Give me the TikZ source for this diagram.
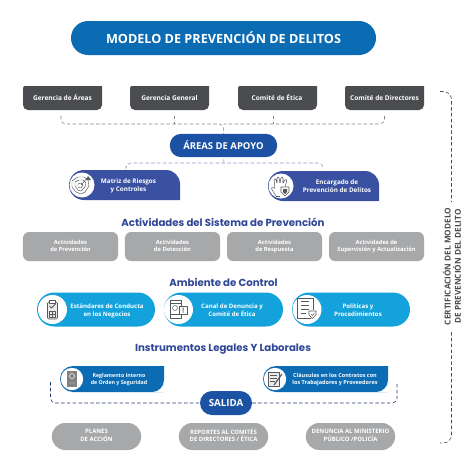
\documentclass[tikz,border=0pt]{standalone}
\usepackage{fontspec}
\setmainfont{Open Sans}
\newfontfamily\titular{Poppins}
\usepackage{tikz}

\definecolor{azulTitulo}{HTML}{0B6BB3}
\definecolor{azulApoyo}{HTML}{1C52A3}
\definecolor{azulMatriz}{HTML}{3A51A2}
\definecolor{azulTexto}{HTML}{2F4795}
\definecolor{celeste}{HTML}{13A2DB}
\definecolor{grisOscuro}{HTML}{4A4C4F}
\definecolor{grisClaro}{HTML}{A7A8AA}
\definecolor{grisIcono}{HTML}{55585B}

\tikzset{
  pildora/.style={fill=#1, text=white, rounded corners=0.34cm, inner sep=0pt, align=center, font=\bfseries},
  etiqueta/.style={text=white, inner sep=0pt, align=center, font=\bfseries\fontsize{5.5}{7.2}\selectfont,
    execute at begin node=\strut, execute at end node=\strut},
  cargo/.style={etiqueta, font=\bfseries\fontsize{5.6}{7}\selectfont, minimum width=2.37cm, minimum height=0.72cm},
  actividad/.style={fill=grisClaro, rounded corners=0.18cm, etiqueta, font=\bfseries\fontsize{4.9}{6}\selectfont, minimum width=2.85cm, minimum height=0.87cm},
  salidaBox/.style={fill=grisClaro, rounded corners=0.4cm, etiqueta, font=\bfseries\fontsize{5.1}{6.6}\selectfont, minimum width=2.68cm, minimum height=0.81cm},
  seccion/.style={text=azulTexto, inner sep=0pt, font=\titular\bfseries\fontsize{8.7}{11}\selectfont},
  enlace/.style={densely dashed, line width=0.5pt, rounded corners=4pt},
  icono/.style={draw=grisIcono, line width=0.45pt, line join=round},
}

\begin{document}
\begin{tikzpicture}[x=0.03cm, y=-0.03cm]
  \useasboundingbox (0,0) rectangle (474,474);

  % title
  \node[pildora=azulTitulo, minimum width=9.15cm, minimum height=1.02cm, rounded corners=0.51cm,
    font=\bfseries\fontsize{10.8}{12}\selectfont] (modelo) at (223.5,38) {MODELO DE PREVENCIÓN DE DELITOS};

  % boxes with one rounded corner
  \foreach \px/\py in {23/86, 130/86, 238/86, 345/86} {
    \fill[grisOscuro, rounded corners=0.15cm] (\px,\py+24) [sharp corners] -- (\px,\py+2) -- (\px+1,\py) -- (\px+79,\py) -- (\px+79,\py+18) [rounded corners=0.15cm] -- (\px+79,\py+24) -- cycle;
  }
  \node[cargo] (gerAreas) at (62.5,99) {Gerencia de Áreas};
  \node[cargo] (gerGeneral) at (169.5,99) {Gerencia General};
  \node[cargo] (comEtica) at (277,99) {Comité de Ética};
  \node[cargo] (comDirect) at (384.5,99) {Comité de Directores};

  % support areas
  \node[pildora=azulApoyo, minimum width=3.22cm, minimum height=0.7cm,
    font=\bfseries\fontsize{8.1}{10}\selectfont] (apoyo) at (223.5,145.5) {ÁREAS DE APOYO};
  \coordinate (cruceA) at (224,124);
  \coordinate (cruceB) at (224,163);

  \draw[enlace, grisIcono!75] ([xshift=-1.3pt, yshift=-4pt]gerAreas.south) |- (cruceA) -- (apoyo.north);
  \draw[enlace, grisIcono!75] ([yshift=-4pt]comDirect.south) |- (cruceA);
  \draw[enlace, grisIcono!75] ([xshift=3.8pt, yshift=-4pt]gerGeneral.south) -- ([xshift=3.8pt]gerGeneral.south |- cruceA);
  \draw[enlace, grisIcono!75] ([xshift=-3.4pt, yshift=-4pt]comEtica.south) -- ([xshift=-3.4pt]comEtica.south |- cruceA);

  \foreach \px/\py in {69/170, 268/171} {
    \fill[azulMatriz] (\px+15,\py) [rounded corners=0.42cm] -- (\px+111,\py) -- (\px+111,\py+30) [sharp corners] -- (\px+111,\py+30) -- (\px+15,\py+30) arc[start angle=90, end angle=270, radius=15] -- cycle;
    \fill[white] (\px+13,\py+15) circle[radius=12.5];
  }
  \node[etiqueta, font=\bfseries\fontsize{5.4}{7.1}\selectfont] (matriz) at (128.5,186.5) {Matriz de Riesgos\\y Controles};
  \node[etiqueta, font=\bfseries\fontsize{5.4}{7.1}\selectfont] (encargado) at (337,187.5) {Encargado de\\Prevención de Delitos};
  \coordinate (finMatriz) at (126,166);
  \coordinate (finEncargado) at (323,168);
  \draw[enlace, azulMatriz!60] (finMatriz) |- (cruceB) -| (finEncargado);
  \draw[enlace, azulMatriz!60] (cruceB) -- (apoyo.south);

  % target and shield
  \begin{scope}[shift={(81,185)}, icono/.append style={line width=0.4pt}]
    \draw[icono] (-9,-4) -- (-3,-8) -- (3,-8) -- (7,-5) -- (8,1) -- (4,7) -- (0,9) -- (-5,7) -- (-9,2) -- cycle;
    \draw[icono] (-6,-3) -- (-2,-5) -- (2,-5) -- (5,-2) -- (4,2) -- (0,6) -- (-3,5) -- (-6,1) -- cycle;
    \draw[icono] (-3,-1) -- (0,-2) -- (2,0) -- (0,3) -- (-3,2) -- cycle;
    \draw[icono] (0,0) -- (7,-8);
    \fill[grisIcono] (7,-9) -- (10,-5) -- (5,-5) -- cycle;
  \end{scope}

  % hand and shield
  \begin{scope}[shift={(280,186)}]
    \draw[icono, rounded corners=1pt] (-4,10) -- (-9,2) -- (-7,1) -- (-5,3) -- (-6,-7) -- (-4,-7) -- (-3,-2) -- (-3,-9) -- (-1,-9) -- (0,-2) -- (1,-9) -- (3,-9) -- (3,-2) -- (5,-7) -- (7,-6) -- (5,1);
    \draw[icono, rounded corners=1pt] (-4,10) -- (0,10);
    \fill[white] (1,0) -- (9,0) -- (9,6) -- (5,11) -- (1,6) -- cycle;
    \draw[icono] (1,1) -- (9,1) -- (9,6) -- (5,10) -- (1,6) -- cycle;
    \fill[grisIcono] (3,3) -- (7,3) -- (7,6) -- (5,8) -- (3,6) -- cycle;
  \end{scope}

  % prevention activities
  \node[seccion] (sistema) at (223,222) {Actividades del Sistema de Prevención};
  \node[actividad] (actPrev) at (70.5,246.5) {Actividades\\de Prevención};
  \node[actividad] (actDet) at (172.5,246.5) {Actividades\\de Detección};
  \node[actividad] (actResp) at (274.5,246.5) {Actividades\\de Respuesta};
  \node[actividad] (actSup) at (376.5,246.5) {Actividades de\\Supervisión y Actualización};

  % control environment
  \node[seccion] (ambiente) at (223.5,282) {Ambiente de Control};
  \foreach \pid/\px/\pw/\pc in {estandares/96/118/52.5, canal/223.5/119/178.5, politicas/351/118/307} {
    \node[pildora=celeste, minimum width=\pw*0.03cm, minimum height=1.02cm, rounded corners=0.51cm] (\pid) at (\px,309.5) {};
    \fill[white] (\pc,309.5) circle[radius=14.5];
  }
  \node[etiqueta, font=\bfseries\fontsize{5.2}{6.8}\selectfont] (estandaresT) at (107,311) {Estándares de Conducta\\en los Negocios};
  \node[etiqueta, font=\bfseries\fontsize{5.2}{6.8}\selectfont] (canalT) at (232,311) {Canal de Denuncia y\\Comité de Ética};
  \node[etiqueta, font=\bfseries\fontsize{5.2}{6.8}\selectfont] (politicasT) at (358,311) {Políticas y\\Procedimientos};

  % clipboard
  \begin{scope}[shift={(52.5,309)}]
    \draw[icono, fill=grisClaro!25, rounded corners=1pt] (-5,-7) rectangle (5,10);
    \draw[icono, fill=white] (-3,-9) rectangle (3,-6);
    \draw[icono, line width=0.8pt] (-3,-3) -- (-1,-1) -- (3,-5);
    \draw[icono] (-3,2) rectangle (3,8) (0,2) -- (0,8) (-3,5) -- (3,5);
  \end{scope}

  % phone and notice
  \begin{scope}[shift={(178,309)}]
    \draw[icono, fill=white, line width=0.7pt] (-8,-9) rectangle (3,9);
    \draw[icono] (-8,-6) -- (3,-6) (-8,5) -- (3,5);
    \draw[icono] (-3,-1) circle[radius=2.5];
    \draw[icono, fill=white, line width=0.7pt] (1,-3) rectangle (9,5);
    \fill[grisIcono] (4.5,-1.5) rectangle (5.5,1.5) (4.5,2.3) rectangle (5.5,3.5);
  \end{scope}

  % document and shield
  \begin{scope}[shift={(306,308)}]
    \draw[icono, line width=0.6pt] (-9,-10) rectangle (7,10);
    \draw[icono] (-5,-7) -- (3,-7) (-5,-3) -- (3,-3) (-5,1) -- (3,1) (-5,5) -- (0,5);
    \fill[white] (2,2) -- (11,2) -- (11,7) -- (6.5,12) -- (2,7) -- cycle;
    \draw[icono] (3,3) -- (10,3) -- (10,7) -- (6.5,10.5) -- (3,7) -- cycle;
    \draw[icono] (5,6) -- (6.5,7.5) -- (8.5,5);
  \end{scope}

  % legal instruments
  \node[seccion] (legales) at (223,349) {Instrumentos Legales Y Laborales};
  \foreach \px/\pw in {60/104, 263/125} {
    \fill[azulTitulo] (\px+13,366) -- (\px+\pw,366) [rounded corners=0.36cm] -- (\px+\pw,392) [sharp corners] -- (\px+\pw-1,392) -- (\px+13,392) arc[start angle=90, end angle=270, radius=13] -- cycle;
    \fill[white] (\px+12,379) circle[radius=11.2];
  }
  \node[etiqueta, font=\bfseries\fontsize{4.5}{6}\selectfont] (reglamento) at (119,380) {Reglamento Interno\\de Orden y Seguridad};
  \node[etiqueta, font=\bfseries\fontsize{4.7}{6}\selectfont] (clausulas) at (335,380) {Cláusulas en los Contratos con\\los Trabajadores y Proveedores};

  % rule book
  \begin{scope}[shift={(72,379)}]
    \fill[grisIcono!75] (-5,-8) rectangle (5,8);
    \draw[white, line width=0.4pt] (0,-3) circle[radius=2.5] (-3,4) -- (3,4);
  \end{scope}

  % contract and pen
  \begin{scope}[shift={(275,379)}]
    \draw[icono, fill=grisClaro!25] (-7,-7) rectangle (4,7);
    \draw[icono] (-5,-4) -- (2,-4) (-5,-1) -- (2,-1) (-5,2) -- (0,2);
    \draw[grisIcono, line width=1pt] (-1,6) -- (7,-5);
  \end{scope}

  % output
  \node[pildora=azulApoyo, minimum width=1.56cm, minimum height=0.72cm, rounded corners=0.36cm,
    font=\bfseries\fontsize{8.3}{10}\selectfont] (salida) at (226,403) {SALIDA};
  \coordinate (finReglamento) at (50.5,382);
  \coordinate (finClausulas) at (397,382);
  \draw[enlace, azulMatriz!70!black] (finReglamento) |- (salida.west);
  \draw[enlace, azulMatriz!70!black] (salida.east) -| (finClausulas);

  \node[salidaBox] (planes) at (96.5,436.5) {PLANES\\DE ACCIÓN};
  \node[salidaBox] (reportes) at (223.5,436.5) {REPORTES AL COMITÉS\\DE DIRECTORES / ÉTICA};
  \node[salidaBox] (denuncia) at (350.5,436.5) {DENUNCIA AL MINISTERIO\\PÚBLICO /POLICÍA};

  % certification bracket
  \node[rotate=90, text=grisOscuro, align=center, font=\bfseries\fontsize{7}{8.6}\selectfont] (certificacion) at (452,266.5) {CERTIFICACIÓN DEL MODELO\\DE PREVENCIÓN DEL DELITO};
  \coordinate (corcheteA) at (440,91.5);
  \coordinate (corcheteB) at (440,443);
  \draw[enlace, grisOscuro, rounded corners=7pt] (corcheteA) -| (451.5,202);
  \draw[enlace, grisOscuro, rounded corners=7pt] (451.5,332) |- (corcheteB);
\end{tikzpicture}
\end{document}
